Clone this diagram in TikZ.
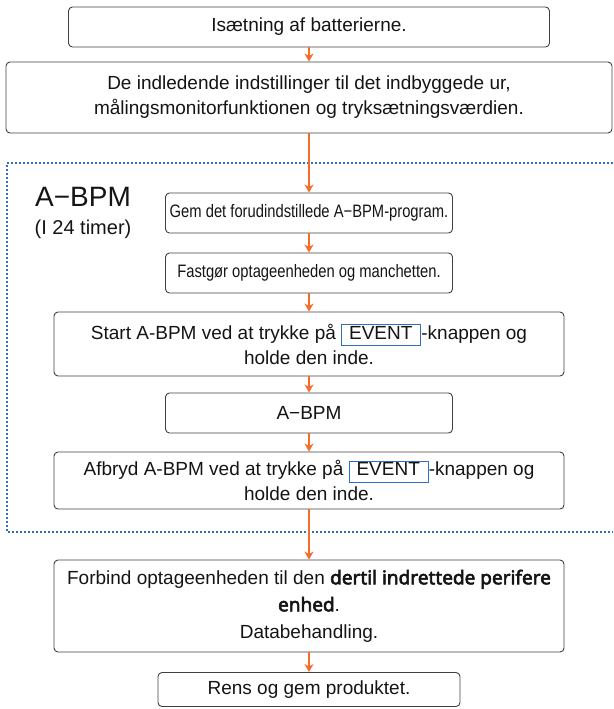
\documentclass[tikz,border=0pt]{standalone}
\usepackage{fontspec}
\setmainfont{Liberation Sans}
\newfontfamily\notobold{Noto Sans}[FakeBold=3]
\usetikzlibrary{arrows.meta}
\definecolor{flowOrange}{RGB}{244,108,40}
\definecolor{frameBlue}{RGB}{46,112,190}
\definecolor{boxGray}{RGB}{64,64,64}
\definecolor{textBlack}{RGB}{20,20,20}
\newcommand{\evbtn}[1]{{\setlength{\fboxsep}{1pt}\setlength{\fboxrule}{0.9pt}%
  \fcolorbox{frameBlue}{white}{\rule[-5pt]{0pt}{18pt}\hspace{6pt}#1\hspace{7pt}}}}
\newcommand{\narrowtxt}[1]{\scalebox{0.82}[1]{#1}}

\begin{document}
\begin{tikzpicture}[x=1pt,y=-1pt,
    flowbox/.style={draw=boxGray, line width=0.9pt, rounded corners=4pt, text=textBlack,
      align=center, inner sep=0pt, font=\fontsize{19}{25}\selectfont},
    narrowbox/.style={flowbox, font=\fontsize{18}{22}\selectfont},
    flowArrow/.style={draw=flowOrange, line width=2.2pt, -{Stealth[length=8pt,width=9pt,inset=2.5pt]}},
    groupFrame/.style={draw=frameBlue, line width=2pt, dash pattern=on 2pt off 2pt}]
      \useasboundingbox (0,0) rectangle (613,709);

      \node[flowbox, minimum width=481pt, minimum height=40pt] (isaet) at (309,27) {Isætning af batterierne.};
      \node[flowbox, minimum width=606pt, minimum height=71pt] (indst) at (309,97.5)
        {De indledende indstillinger til det indbyggede ur,\\målingsmonitorfunktionen og tryksætningsværdien.};

      % A-BPM group
      \draw[groupFrame] (613,163) -- (7,163) -- (7,532) -- (613,532);
      \node[text=textBlack, font=\fontsize{28}{30}\selectfont] (abpmlbl) at (83,197) {A−BPM};
      \node[text=textBlack, font=\fontsize{20}{22}\selectfont] (timerlbl) at (83,229) {(I 24 timer)};

      \node[narrowbox, minimum width=287pt, minimum height=40pt] (gem) at (309,213)
        {\narrowtxt{Gem det forudindstillede A−BPM-program.}};
      \node[narrowbox, minimum width=287pt, minimum height=40pt] (fastg) at (309,273)
        {\narrowtxt{Fastgør optageenheden og manchetten.}};
      \node[flowbox, minimum width=510pt, minimum height=64pt] (start) at (309,344)
        {Start A-BPM ved at trykke på \evbtn{EVENT}-knappen og\\holde den inde.};
      \node[flowbox, minimum width=287pt, minimum height=40pt] (abpm) at (309,413) {A−BPM};
      \node[flowbox, minimum width=510pt, minimum height=57pt] (afbryd) at (309,480.5)
        {Afbryd A-BPM ved at trykke på \evbtn{EVENT}-knappen og\\holde den inde.};

      \node[flowbox, minimum width=510pt, minimum height=92pt, font=\fontsize{19}{27}\selectfont] (forbind) at (309,606)
        {Forbind optageenheden til den {\notobold dertil indrettede perifere}\\{\notobold enhed}.\\Databehandling.};
      \node[flowbox, minimum width=302pt, minimum height=34pt] (rens) at (309,689.5) {Rens og gem produktet.};

      \draw[flowArrow] (isaet) -- (indst);
      \draw[flowArrow] (indst) -- (gem);
      \draw[flowArrow] (gem) -- (fastg);
      \draw[flowArrow] (fastg) -- (start);
      \draw[flowArrow] (start) -- (abpm);
      \draw[flowArrow] (abpm) -- (afbryd);
      \draw[flowArrow] (afbryd) -- (forbind);
      \draw[flowArrow] (forbind) -- (rens);
    \end{tikzpicture}
\end{document}
